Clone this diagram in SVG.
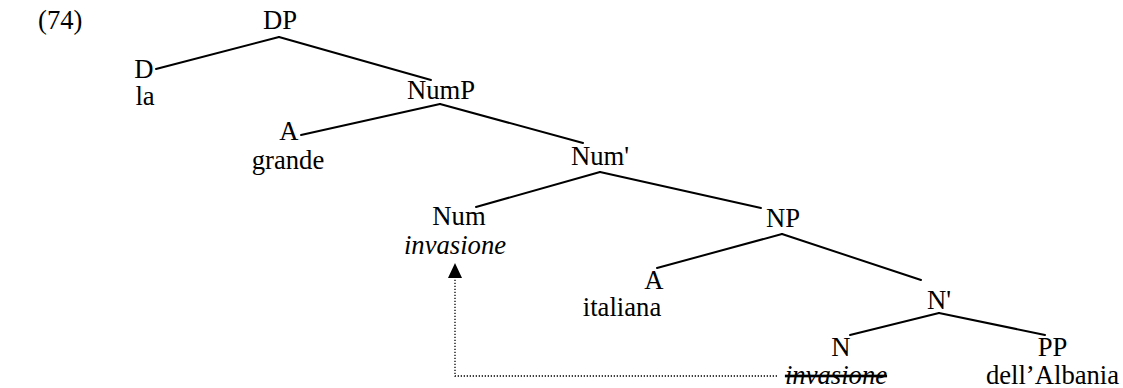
<svg xmlns="http://www.w3.org/2000/svg" width="1123" height="388" viewBox="0 0 1123 388">
<style>
text{font-family:"Liberation Serif","Times New Roman",serif;font-size:26.67px;fill:#000;text-anchor:middle}
.it{font-style:italic}
.edge{stroke:#000;stroke-width:2;fill:none;stroke-linecap:round}
.move{stroke:#000;stroke-width:1.3;fill:none;stroke-dasharray:1.3 1.7}
</style>
<text x="38" y="29" style="text-anchor:start">(74)</text>
<g id="connectors">
<line class="edge" x1="279" y1="37" x2="156" y2="69"/>
<line class="edge" x1="279" y1="37" x2="431" y2="80"/>
<line class="edge" x1="440" y1="104" x2="301" y2="135"/>
<line class="edge" x1="440" y1="104" x2="583" y2="143"/>
<line class="edge" x1="600" y1="172" x2="476" y2="207"/>
<line class="edge" x1="600" y1="172" x2="761" y2="208"/>
<line class="edge" x1="782" y1="234" x2="657" y2="268"/>
<line class="edge" x1="782" y1="234" x2="921" y2="280"/>
<line class="edge" x1="939" y1="313" x2="850" y2="335"/>
<line class="edge" x1="939" y1="313" x2="1045" y2="335"/>
<polyline class="move" points="777,376 455,376 455,278"/>
<path d="M448,278 L455,263 L462,278 Z" fill="#000"/>
</g>
<g id="DP"><text x="280" y="29">DP</text></g>
<g id="D"><text x="144" y="78">D</text><text x="145" y="105">la</text></g>
<g id="NumP"><text x="441" y="99">NumP</text></g>
<g id="A1"><text x="289" y="140">A</text><text x="288" y="169">grande</text></g>
<g id="NumBar"><text x="600" y="165">Num'</text></g>
<g id="Num"><text x="459" y="225">Num</text><text class="it" x="455" y="254">invasione</text></g>
<g id="NP"><text x="783" y="227">NP</text></g>
<g id="A2"><text x="654" y="289">A</text><text x="622" y="316">italiana</text></g>
<g id="NBar"><text x="939" y="309">N'</text></g>
<g id="N"><text x="841" y="356">N</text><text class="it" x="836" y="384" text-decoration="line-through">invasione</text></g>
<g id="PP"><text x="1052.5" y="356">PP</text><text x="1052.5" y="384">dell’Albania</text></g>
</svg>
